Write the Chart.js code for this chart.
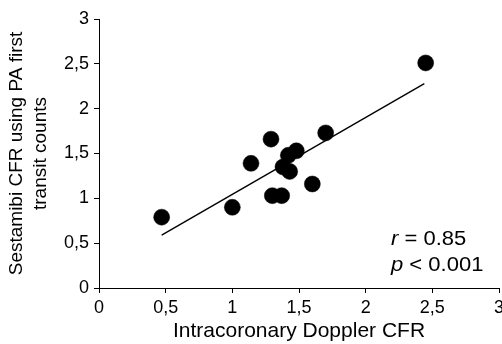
<!DOCTYPE html>
<html>
<head>
<meta charset="utf-8">
<script src="https://cdn.jsdelivr.net/npm/chart.js@4.4.1/dist/chart.umd.min.js"></script>
<style>
  html, body { margin: 0; padding: 0; background: #fff; }
  #wrap { width: 502px; height: 344px; }
</style>
</head>
<body>
<div id="wrap"><canvas id="chart"></canvas></div>
<script>
// data
const dopplerCFR = [0.47, 1.0, 1.14, 1.29, 1.30, 1.37, 1.38, 1.42, 1.43, 1.48, 1.60, 1.70, 2.45];
const sestamibiCFR = [0.79, 0.90, 1.39, 1.66, 1.03, 1.03, 1.35, 1.48, 1.30, 1.53, 1.16, 1.73, 2.51];
const fitX = [0.47, 2.44];
const fitY = [0.59, 2.28];
const axisTicks = [0, 0.5, 1, 1.5, 2, 2.5, 3];

const FONT = "'Liberation Sans', Arial, Helvetica, sans-serif";

const points = dopplerCFR.map((x, i) => ({ x: x, y: sestamibiCFR[i] }));
const fitLine = fitX.map((x, i) => ({ x: x, y: fitY[i] }));

function commaLabel(v) {
  return String(v).replace(".", ",");
}

// r and p text in the lower right
const statsText = {
  id: "statsText",
  afterDraw(chart) {
    const ctx = chart.ctx;
    const xs = chart.scales.x, ys = chart.scales.y;
    const x0 = xs.getPixelForValue(2.19);
    const rows = [["r", " = 0.85", ys.getPixelForValue(0.475)], ["p", " < 0.001", ys.getPixelForValue(0.195)]];
    ctx.save();
    ctx.fillStyle = "#000";
    ctx.textBaseline = "alphabetic";
    rows.forEach(([sym, rest, y]) => {
      ctx.save();
      ctx.translate(x0, y);
      ctx.scale(1.1, 1);
      ctx.font = "italic 20px " + FONT;
      ctx.fillText(sym, 0, 0);
      const w = ctx.measureText(sym).width;
      ctx.font = "20px " + FONT;
      ctx.fillText(rest, w, 0);
      ctx.restore();
    });
    ctx.restore();
  },
};

new Chart(document.getElementById("chart"), {
  type: "scatter",
  data: {
    datasets: [
      {
        label: "patients",
        data: points,
        backgroundColor: "#000",
        borderColor: "#000",
        borderWidth: 0.5,
        pointRadius: 8,
        pointHoverRadius: 8,
      },
      {
        type: "line",
        label: "fit",
        data: fitLine,
        borderColor: "#000",
        borderWidth: 1.4,
        pointRadius: 0,
        fill: false,
      },
    ],
  },
  options: {
    responsive: true,
    maintainAspectRatio: false,
    animation: false,
    layout: { autoPadding: false, padding: { top: 19, right: 0, bottom: 0, left: 0 } },
    plugins: {
      legend: { display: false },
      tooltip: { enabled: false },
    },
    scales: {
      x: {
        type: "linear",
        min: 0,
        max: 3,
        afterBuildTicks: (s) => { s.ticks = axisTicks.map((v) => ({ value: v })); },
        afterFit: (s) => { s.height = 56; s.paddingRight = 3; },
        border: { color: "#000", width: 1 },
        grid: { display: true, drawOnChartArea: false, drawTicks: true, tickLength: 5, color: "#000" },
        ticks: {
          color: "#000",
          padding: 4,
          maxRotation: 0,
          font: { family: FONT, size: 18 },
          callback: commaLabel,
        },
        title: {
          display: true,
          text: "Intracoronary Doppler CFR",
          color: "#000",
          font: { family: FONT, size: 21, lineHeight: 1.2 },
          padding: { top: 0, bottom: 0 },
        },
      },
      y: {
        type: "linear",
        min: 0,
        max: 3,
        afterBuildTicks: (s) => { s.ticks = axisTicks.map((v) => ({ value: v })); },
        afterFit: (s) => { s.width = 99; },
        border: { color: "#000", width: 1 },
        grid: { display: true, drawOnChartArea: false, drawTicks: true, tickLength: 5, color: "#000" },
        ticks: {
          color: "#000",
          padding: 5,
          font: { family: FONT, size: 18 },
          callback: commaLabel,
        },
        title: {
          display: true,
          text: ["Sestamibi CFR using PA first", "transit counts"],
          color: "#000",
          font: { family: FONT, size: 19, lineHeight: 1.26 },
          padding: { top: 5, bottom: 0 },
        },
      },
    },
  },
  plugins: [statsText],
});
</script>
</body>
</html>
